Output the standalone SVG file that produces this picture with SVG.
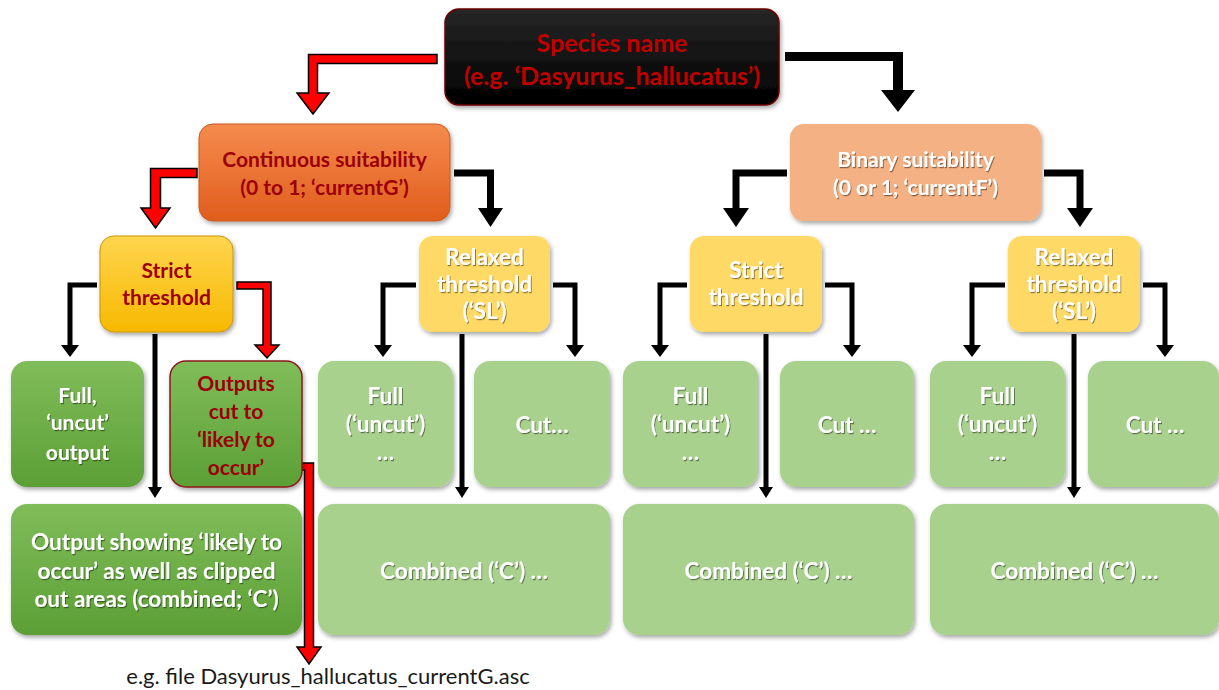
<svg xmlns="http://www.w3.org/2000/svg" width="1219" height="690" viewBox="0 0 1219 690">
<defs>
<linearGradient id="gBlack" x1="0" y1="0" x2="0" y2="1"><stop offset="0" stop-color="#262626"/><stop offset="1" stop-color="#000"/></linearGradient>
<linearGradient id="gOrange" x1="0" y1="0" x2="0" y2="1"><stop offset="0" stop-color="#f58b4e"/><stop offset="1" stop-color="#e05d1c"/></linearGradient>
<linearGradient id="gGold" x1="0" y1="0" x2="0" y2="1"><stop offset="0" stop-color="#ffd54f"/><stop offset="1" stop-color="#f7b900"/></linearGradient>
<linearGradient id="gGreen" x1="0" y1="0" x2="0" y2="1"><stop offset="0" stop-color="#80bd5a"/><stop offset="1" stop-color="#5c9f35"/></linearGradient>
<filter id="sh" x="-10%" y="-10%" width="125%" height="130%"><feDropShadow dx="1.5" dy="2.5" stdDeviation="2" flood-color="#000" flood-opacity="0.35"/></filter>
<filter id="tsh" x="-10%" y="-20%" width="120%" height="150%"><feDropShadow dx="1" dy="1.2" stdDeviation="0.6" flood-color="#000" flood-opacity="0.45"/></filter>
</defs>
<style>
text{font-family:Lato,"Open Sans","Liberation Sans",sans-serif;font-weight:bold;text-anchor:middle}
.box{filter:url(#sh)}
.red{fill:#c00000;font-size:25px}
.dred{fill:#9c0006;font-size:21px}
.wht{fill:#fff;font-size:21px;filter:url(#tsh)}
.lg{font-size:22.5px}
.blk{fill:#000}
.ra{fill:#ff0000;stroke:#000;stroke-width:1.5;stroke-linejoin:miter}
.cap{font-weight:normal;fill:#1a1a1a;font-size:22px}
</style>
<rect width="1219" height="690" fill="#fff"/>

<g id="connectors">
<polygon class="ra" points="437,54.5 308.5,54.5 308.5,93 297,93 313,114 329,93 317.5,93 317.5,63.5 437,63.5"/>
<polygon class="blk" points="785,52 903,52 903,90 915,90 898,112 881,90 893,90 893,61 785,61"/>
<polygon class="ra" points="197,168.5 150.5,168.5 150.5,208 141,208 155.5,228 170,208 160.5,208 160.5,177.5 197,177.5"/>
<polygon class="blk" points="454,169.5 494,169.5 494,208 503,208 490.5,227 478,208 487,208 487,176.5 454,176.5"/>
<polygon class="blk" points="787,169.5 732.5,169.5 732.5,208 723,208 736,227 749,208 739.5,208 739.5,176.5 787,176.5"/>
<polygon class="blk" points="1044,169.5 1083.5,169.5 1083.5,208 1093,208 1080,227 1067,208 1076.5,208 1076.5,176.5 1044,176.5"/>
<polygon class="blk" points="97,282.5 67.5,282.5 67.5,345 61,345 70,357 79,345 72.5,345 72.5,287.5 97,287.5"/>
<polygon class="blk" points="152.5,334 157.5,334 157.5,487 162,487 155,498 148,487 152.5,487"/>
<polygon class="ra" points="237,282 271,282 271,345 279,345 267,358 255,345 263,345 263,289 237,289"/>
<polygon class="blk" points="416,282.5 380.5,282.5 380.5,345 374,345 383,357 392,345 385.5,345 385.5,287.5 416,287.5"/>
<polygon class="blk" points="459.5,334 464.5,334 464.5,487 469,487 462,498 455,487 459.5,487"/>
<polygon class="blk" points="553,282.5 577.5,282.5 577.5,345 584,345 575,357 566,345 572.5,345 572.5,287.5 553,287.5"/>
<polygon class="blk" points="687,282.5 657.5,282.5 657.5,345 651,345 660,357 669,345 662.5,345 662.5,287.5 687,287.5"/>
<polygon class="blk" points="763.5,334 768.5,334 768.5,487 773,487 766,498 759,487 763.5,487"/>
<polygon class="blk" points="825,282.5 854.5,282.5 854.5,345 861,345 852,357 843,345 849.5,345 849.5,287.5 825,287.5"/>
<polygon class="blk" points="1005,282.5 969.5,282.5 969.5,345 963,345 972,357 981,345 974.5,345 974.5,287.5 1005,287.5"/>
<polygon class="blk" points="1071.5,334 1076.5,334 1076.5,487 1081,487 1074,498 1067,487 1071.5,487"/>
<polygon class="blk" points="1143,282.5 1167.5,282.5 1167.5,345 1174,345 1165,357 1156,345 1162.5,345 1162.5,287.5 1143,287.5"/>
<polygon class="ra" points="280,463 313.5,463 313.5,647 321,647 309,664 297,647 304.5,647 304.5,470 280,470"/>
</g>

<g id="species"><rect class="box" x="445" y="9" width="334" height="96" rx="14" fill="url(#gBlack)" stroke="#6b0000" stroke-width="1.5"/>
<text class="red" x="612" y="52">Species name</text><text class="red" x="612" y="85">(e.g. ‘Dasyurus_hallucatus’)</text></g>

<g id="continuous"><rect class="box" x="199" y="124" width="251" height="97" rx="14" fill="url(#gOrange)" stroke="#c85a1e" stroke-width="1"/>
<text class="dred" x="324.5" y="167">Continuous suitability</text><text class="dred" x="324.5" y="195">(0 to 1; ‘currentG’)</text></g>

<g id="binary"><rect class="box" x="790" y="124" width="251" height="97" rx="14" fill="#f4b183"/>
<text class="wht" x="915.5" y="167">Binary suitability</text><text class="wht" x="915.5" y="195">(0 or 1; ‘currentF’)</text></g>

<g id="strictL"><rect class="box" x="100" y="236" width="133" height="96" rx="14" fill="url(#gGold)" stroke="#c9950c" stroke-width="1"/>
<text class="dred" x="166.5" y="278">Strict</text><text class="dred" x="166.5" y="305">threshold</text></g>

<g id="relaxedL"><rect class="box" x="419" y="236" width="131" height="96" rx="14" fill="#ffd966"/>
<text class="wht lg" x="484.5" y="265">Relaxed</text><text class="wht lg" x="484.5" y="292">threshold</text><text class="wht lg" x="484.5" y="319">(‘SL’)</text></g>

<g id="strictR"><rect class="box" x="690" y="236" width="132" height="96" rx="14" fill="#ffd966"/>
<text class="wht lg" x="756" y="278">Strict</text><text class="wht lg" x="756" y="305">threshold</text></g>

<g id="relaxedR"><rect class="box" x="1008" y="236" width="132" height="96" rx="14" fill="#ffd966"/>
<text class="wht lg" x="1074" y="265">Relaxed</text><text class="wht lg" x="1074" y="292">threshold</text><text class="wht lg" x="1074" y="319">(‘SL’)</text></g>

<g id="fullL"><rect class="box" x="11" y="361" width="133" height="126" rx="16" fill="url(#gGreen)"/>
<text class="wht" x="77.5" y="403">Full,</text><text class="wht" x="77.5" y="430">‘uncut’</text><text class="wht" x="77.5" y="460">output</text></g>

<g id="cutL"><rect class="box" x="170" y="361" width="132" height="126" rx="16" fill="url(#gGreen)" stroke="#8b1a1a" stroke-width="1.5"/>
<text class="dred" x="236" y="391">Outputs</text><text class="dred" x="236" y="419">cut to</text><text class="dred" x="236" y="447">‘likely to</text><text class="dred" x="236" y="475">occur’</text></g>

<g id="fullL2"><rect class="box" x="318" y="361" width="135" height="126" rx="16" fill="#a9d18e"/>
<text class="wht lg" x="385.5" y="404">Full</text><text class="wht lg" x="385.5" y="432">(‘uncut’)</text><text class="wht lg" x="385.5" y="460">…</text></g>

<g id="cutL2"><rect class="box" x="474" y="361" width="136" height="126" rx="16" fill="#a9d18e"/>
<text class="wht lg" x="542" y="433">Cut…</text></g>

<g id="fullR1"><rect class="box" x="623" y="361" width="135" height="126" rx="16" fill="#a9d18e"/>
<text class="wht lg" x="690.5" y="404">Full</text><text class="wht lg" x="690.5" y="432">(‘uncut’)</text><text class="wht lg" x="690.5" y="460">…</text></g>

<g id="cutR1"><rect class="box" x="780" y="361" width="134" height="126" rx="16" fill="#a9d18e"/>
<text class="wht lg" x="847" y="433">Cut …</text></g>

<g id="fullR2"><rect class="box" x="930" y="361" width="135" height="126" rx="16" fill="#a9d18e"/>
<text class="wht lg" x="997.5" y="404">Full</text><text class="wht lg" x="997.5" y="432">(‘uncut’)</text><text class="wht lg" x="997.5" y="460">…</text></g>

<g id="cutR2"><rect class="box" x="1088" y="361" width="131" height="126" rx="16" fill="#a9d18e"/>
<text class="wht lg" x="1155" y="433">Cut …</text></g>

<g id="combL"><rect class="box" x="11" y="504" width="291" height="131" rx="16" fill="url(#gGreen)"/>
<text class="wht lg" x="156.5" y="550">Output showing ‘likely to</text><text class="wht lg" x="156.5" y="579">occur’ as well as clipped</text><text class="wht lg" x="156.5" y="607">out areas (combined; ‘C’)</text></g>

<g id="combL2"><rect class="box" x="318" y="504" width="292" height="131" rx="16" fill="#a9d18e"/>
<text class="wht lg" x="464" y="579">Combined (‘C’) …</text></g>

<g id="combR1"><rect class="box" x="623" y="504" width="291" height="131" rx="16" fill="#a9d18e"/>
<text class="wht lg" x="768.5" y="579">Combined (‘C’) …</text></g>

<g id="combR2"><rect class="box" x="930" y="504" width="289" height="131" rx="16" fill="#a9d18e"/>
<text class="wht lg" x="1074.5" y="579">Combined (‘C’) …</text></g>

<g id="caption"><text class="cap" x="328" y="684">e.g. file Dasyurus_hallucatus_currentG.asc</text></g>
</svg>
